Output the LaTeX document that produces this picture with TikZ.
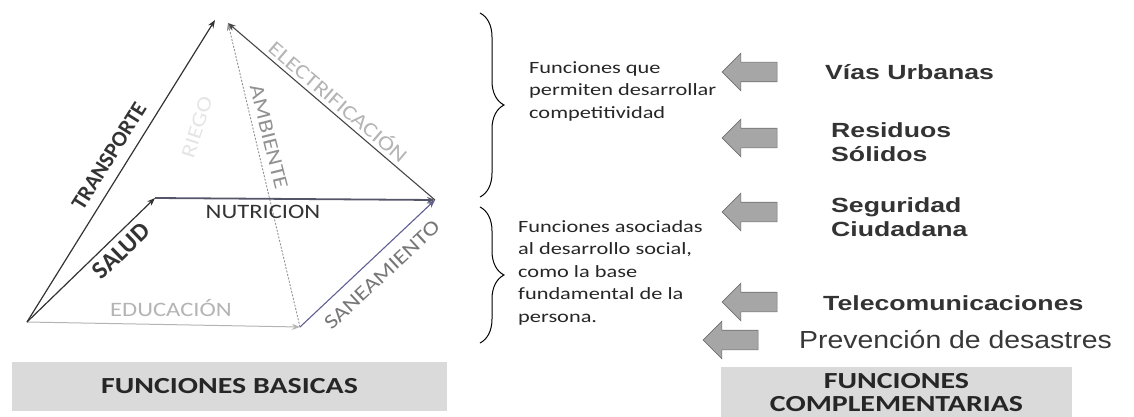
\documentclass[tikz,border=0pt]{standalone}
\usepackage{fontspec}
\usepackage{tikz}
\usetikzlibrary{arrows.meta,shapes.arrows,decorations.pathreplacing}
\newfontfamily\calfont[FakeStretch=1.2]{Carlito}
\newfontfamily\calnfont{Carlito}
\newfontfamily\calwfont[FakeStretch=1.3]{Carlito}
\newfontfamily\calbfont[FakeStretch=1.3]{Carlito}
\newfontfamily\arlbfont[FakeStretch=1.3]{Liberation Sans Bold}
\newfontfamily\arlnfont[FakeStretch=1.15]{Liberation Sans}
\definecolor{inkdark}{HTML}{333333}
\definecolor{inkmid}{HTML}{777777}
\definecolor{inklight}{HTML}{B4B4B4}
\definecolor{nutriline}{HTML}{55556A}
\definecolor{boxgray}{HTML}{DADADA}
\definecolor{arrowgray}{HTML}{A6A6A6}
\definecolor{arrowline}{HTML}{707070}
\tikzset{
  edge/.style={line width=1.1pt, -{Stealth[length=8pt,width=6pt]}},
  lbl/.style={inner sep=0pt, font=\calfont\fontsize{20.5pt}{22pt}\selectfont},
  boldlbl/.style={inner sep=0pt, text=inkdark, font=\calnfont\bfseries\fontsize{#1}{24pt}\selectfont},
  blockarrow/.style={single arrow, shape border rotate=180, fill=arrowgray, draw=arrowline,
    line width=0.6pt, minimum height=55pt, inner xsep=0pt, inner ysep=9.5pt, single arrow head extend=9pt},
  compl/.style={anchor=west, inner sep=0pt, text=inkdark, align=left,
    font=\arlbfont\fontsize{20.5pt}{23.5pt}\selectfont},
  note/.style={anchor=north west, inner sep=0pt, align=left, text=black!85,
    font=\calwfont\fontsize{17.2pt}{22.5pt}\selectfont},
  titlebox/.style={fill=boxgray, inner sep=0pt, align=center, text=black!85,
    font=\calbfont\bfseries\fontsize{23pt}{23pt}\selectfont}
}
\begin{document}
\begin{tikzpicture}[x=1pt,y=-1pt]
\useasboundingbox (0,0) rectangle (1134,417);
\coordinate (A) at (27,322);
\coordinate (B) at (155,198);
\coordinate (C) at (435,200);
\coordinate (D) at (300,327);
\coordinate (apex) at (215,20);
\coordinate (apexr) at (228,23);
\draw[edge, inklight, line width=1pt] (A) -- (D);
\draw[edge, inklight!80!black, line width=0.9pt, dash pattern=on 2pt off 1.5pt] (D) -- (apexr);
\draw[edge, inkmid!80!blue] (D) -- (C);
\draw[edge, inkdark!90] (C) -- (apexr);
\draw[edge, inkdark, line width=1.2pt] (A) -- (apex);
\draw[edge, inkdark, line width=1.2pt] (A) -- (B);
\draw[edge, nutriline, line width=1.8pt] (B) -- (C);
\node[boldlbl=22pt, rotate=58] (transporte) at (109,156) {TRANSPORTE};
\node[boldlbl=25pt, rotate=44] (salud) at (121,251) {SALUD};
\node[lbl, text=inkdark] (nutricion) at (263,212) {NUTRICION};
\node[lbl, text=inklight] (educacion) at (171,308) {EDUCACIÓN};
\node[lbl, rotate=43, text=inkmid] (saneamiento) at (382,275) {SANEAMIENTO};
\node[lbl, rotate=-40.5, text=inklight] (electrificacion) at (339,101) {ELECTRIFICACIÓN};
\node[lbl, rotate=-76, text=inkmid!80] (ambiente) at (269,137) {AMBIENTE};
\node[lbl, rotate=72, text=black!10] (riego) at (197,127) {RIEGO};
\node[titlebox, minimum width=435pt, minimum height=49pt] (basicas) at (229.5,386.5) {FUNCIONES BASICAS};
\draw[line width=1pt, decorate, decoration={brace, amplitude=24pt}] (480,13) -- (480,197);
\draw[line width=1pt, decorate, decoration={brace, amplitude=24pt}] (480,207) -- (480,343);
\node[note] (competitividad) at (529,61) {Funciones que\\permiten desarrollar\\competitividad};
\node[note] (social) at (518,220) {Funciones asociadas\\al desarrollo social,\\como la base\\fundamental de la\\persona.};
\node[blockarrow] (arrvias) at (754.5,72) {};
\node[blockarrow] (arrresiduos) at (754.5,138) {};
\node[blockarrow] (arrseguridad) at (754.5,212) {};
\node[blockarrow] (arrtelecom) at (754.5,302) {};
\node[blockarrow] (arrprevencion) at (735.5,340) {};
\node[compl] (vias) at (825,72) {Vías Urbanas};
\node[compl] (residuos) at (831,142) {Residuos\\Sólidos};
\node[compl] (seguridad) at (831,217) {Seguridad\\Ciudadana};
\node[compl] (telecom) at (823,303) {Telecomunicaciones};
\node[compl, text=black!78, font=\arlnfont\fontsize{24.7pt}{26pt}\selectfont] (prevencion) at (799,340) {Prevención de desastres};
\node[titlebox, minimum width=351pt, minimum height=52pt] (complementarias) at (896.5,393) {FUNCIONES\\COMPLEMENTARIAS};
\end{tikzpicture}
\end{document}
